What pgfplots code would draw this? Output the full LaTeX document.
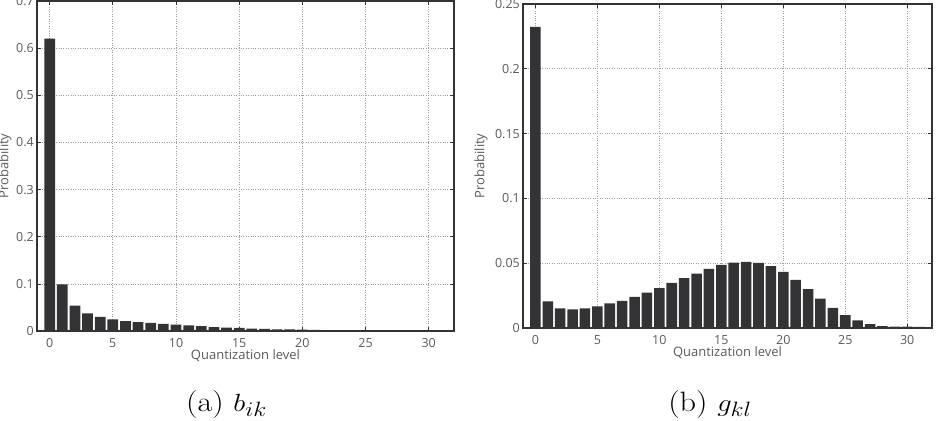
\documentclass[border=0pt]{standalone}
\usepackage{fontspec}
\usepackage{pgfplots}
\pgfplotsset{compat=1.18}
\newfontfamily\axfont{Open Sans}
\definecolor{barc}{HTML}{333335}
\definecolor{tickc}{HTML}{5A5A5A}
\pgfplotstableread{
x y
0 0.62
1 0.099
2 0.054
3 0.0375
4 0.0298
5 0.0245
6 0.0212
7 0.0190
8 0.0172
9 0.0152
10 0.0136
11 0.0118
12 0.0106
13 0.0080
14 0.0073
15 0.0064
16 0.0050
17 0.0043
18 0.0036
19 0.0033
20 0.0028
21 0.0022
22 0.0018
23 0.0015
24 0.0012
25 0.0010
26 0.0008
27 0.0006
28 0.0005
29 0.0004
30 0.0003
31 0.0002
}\bik
\pgfplotstableread{
x y
0 0.2324
1 0.0205
2 0.0151
3 0.0144
4 0.0151
5 0.0167
6 0.0190
7 0.0210
8 0.0240
9 0.0272
10 0.0308
11 0.0349
12 0.0385
13 0.0420
14 0.0456
15 0.0487
16 0.0505
17 0.0510
18 0.0503
19 0.0477
20 0.0433
21 0.0372
22 0.0300
23 0.0226
24 0.0156
25 0.0100
26 0.0059
27 0.0030
28 0.0015
29 0.0010
30 0.0010
31 0.0008
}\gkl
\begin{document}
\begin{tikzpicture}[x=1pt,y=1pt]
\path[use as bounding box] (0,0) rectangle (941,420);
\pgfplotsset{
 qstyle/.style={
  scale only axis, anchor=south west,
  xmin=-1, xmax=32, ymin=0,
  xtick={0,5,...,30},
  tick pos=both, tick align=inside, major tick length=4pt,
  grid=major, major grid style={dotted, gray!75, line width=0.7pt},
  axis line style={draw=black!80, line width=1.3pt},
  every tick/.style={black!80, line width=0.7pt},
  tick label style={font=\axfont\fontsize{12.5}{14}\selectfont, text=tickc},
  /pgf/number format/assume math mode=true,
  /pgf/number format/fixed,
  scaled y ticks=false,
  xticklabel style={anchor=center, inner sep=0pt, yshift=-12pt},
  yticklabel style={anchor=east, inner sep=0pt, xshift=-3pt},
  label style={font=\axfont\fontsize{13}{15}\selectfont, text=tickc},
  xlabel={Quantization level},
  ylabel={Probability},
  xlabel style={at={(axis description cs:0.5,0)}, anchor=center, yshift=-24.5pt},
 }
}
\begin{axis}[qstyle, at={(37pt,89pt)}, width=417pt, height=330pt,
  ymax=0.7, ytick={0,0.1,0.2,0.3,0.4,0.5,0.6,0.7},
  ylabel style={at={(axis description cs:-0.077,0.5)}, anchor=center}]
\addplot[ybar, bar width=0.85, fill=barc, draw=none] table[x=x,y=y] {\bik};
\end{axis}
\begin{axis}[qstyle, at={(523pt,92pt)}, width=409pt, height=324pt,
  ymax=0.25, ytick={0,0.05,0.1,0.15,0.2,0.25},
  ylabel style={at={(axis description cs:-0.103,0.5)}, anchor=center}]
\addplot[ybar, bar width=0.85, fill=barc, draw=none] table[x=x,y=y] {\gkl};
\end{axis}
\node[anchor=base, xscale=1.15] at (226.5,9) {\fontsize{28}{32}\selectfont (a) $b_{ik}$};
\node[anchor=base, xscale=1.15] at (710,9) {\fontsize{28}{32}\selectfont (b) $g_{kl}$};
\end{tikzpicture}
\end{document}
